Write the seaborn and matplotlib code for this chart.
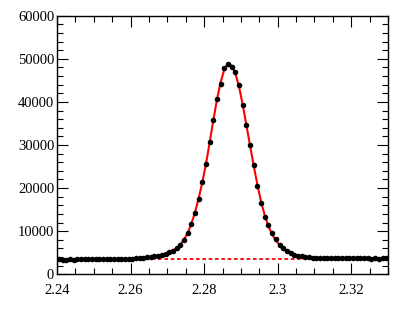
import numpy as np
import pandas as pd
import matplotlib
matplotlib.use("Agg")
import matplotlib.pyplot as plt
import seaborn as sns
from matplotlib.ticker import MultipleLocator

sns.set_style("ticks")
plt.rcParams["font.family"] = ["Liberation Serif", "DejaVu Serif"]

# bin centres (width 0.001 from 2.24 to 2.33)
bin_lo = 2.24
bin_width = 0.001
n_bins = 90

# counts per bin
counts = [
    3450, 3380, 3420, 3470, 3430, 3480, 3440, 3500, 3460, 3490,
    3520, 3480, 3530, 3500, 3550, 3520, 3580, 3560, 3600, 3620,
    3650, 3680, 3720, 3800, 3920, 4050, 4200, 4350, 4550, 4800,
    5100, 5500, 6100, 6900, 8000, 9600, 11700, 14300, 17500, 21400,
    25600, 30600, 35900, 40700, 44100, 47800, 48800, 48000, 47000, 44000,
    39200, 34700, 30000, 25300, 20600, 16500, 13400, 11400, 9500, 8100,
    6850, 6050, 5400, 4950, 4550, 4300, 4150, 4050, 3950, 3880,
    3850, 3820, 3800, 3780, 3760, 3790, 3740, 3720, 3760, 3730,
    3700, 3740, 3690, 3720, 3680, 3650, 3700, 3660, 3720, 3690,
]

# fitted curve evaluated at the same bin centres
fit_vals = [
    3500, 3500, 3505, 3505, 3510, 3510, 3515, 3520, 3520, 3525,
    3530, 3535, 3540, 3545, 3555, 3565, 3580, 3595, 3615, 3640,
    3670, 3705, 3750, 3810, 3890, 4000, 4140, 4320, 4540, 4800,
    5120, 5530, 6100, 6880, 7980, 9550, 11650, 14300, 17500, 21350,
    25600, 30550, 35750, 40600, 44600, 47600, 48900, 48450, 46600, 43500,
    39300, 34600, 29800, 25100, 20700, 16800, 13600, 11150, 9250, 7850,
    6800, 6000, 5380, 4920, 4580, 4330, 4150, 4020, 3930, 3870,
    3830, 3800, 3780, 3765, 3755, 3745, 3740, 3735, 3730, 3725,
    3720, 3715, 3712, 3710, 3707, 3705, 3703, 3700, 3700, 3700,
]

background = 3520

df = pd.DataFrame({
    "mass": bin_lo + bin_width * (np.arange(n_bins) + 0.5),
    "counts": counts,
    "fit": fit_vals,
})

fig, ax = plt.subplots(figsize=(4.09, 3.27), dpi=100)
fig.subplots_adjust(left=0.1394, right=0.9487, bottom=0.1612, top=0.952)

# background component (dashed)
ax.plot([2.24, 2.33], [background, background], color="red", lw=1.3,
        ls=(0, (2, 1.5)), zorder=2)

# total fit
sns.lineplot(data=df, x="mass", y="fit", color="red", lw=1.5, ax=ax,
             zorder=3, sort=True)

# data points with bin-width bars
ax.errorbar(df["mass"], df["counts"], xerr=bin_width / 2, fmt="none",
            ecolor="black", elinewidth=1.0, zorder=4)
sns.scatterplot(data=df, x="mass", y="counts", color="black", s=16,
                edgecolor="black", linewidth=0, ax=ax, zorder=5)

ax.set_xlim(2.24, 2.33)
ax.set_ylim(0, 60000)
ax.set_xlabel("")
ax.set_ylabel("")

ax.xaxis.set_minor_locator(MultipleLocator(0.005))
ax.yaxis.set_major_locator(MultipleLocator(10000))
ax.yaxis.set_minor_locator(MultipleLocator(2000))
ax.set_xticks([2.24, 2.26, 2.28, 2.30, 2.32])
ax.set_xticklabels(["2.24", "2.26", "2.28", "2.3", "2.32"])

ax.tick_params(which="both", direction="in", top=True, right=True,
               labelsize=10.5, width=0.8, colors="black")
ax.tick_params(axis="y", pad=2)
ax.tick_params(axis="x", pad=7)
ax.tick_params(which="major", length=8)
ax.tick_params(which="minor", length=4)
for sp in ax.spines.values():
    sp.set_color("black")
    sp.set_linewidth(1.0)

fig.savefig("out.png", dpi=100)
